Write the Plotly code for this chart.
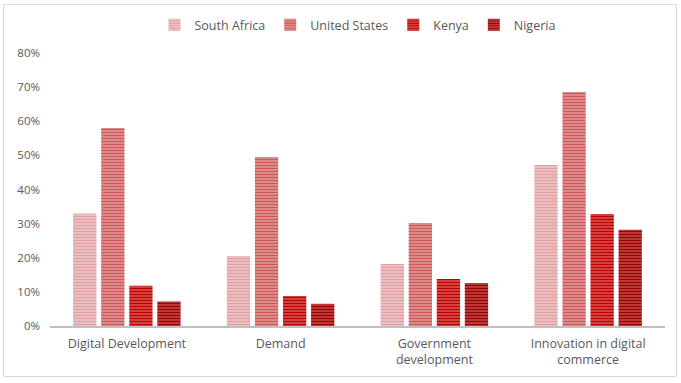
import plotly.graph_objects as go

categories = ["Digital Development", "Demand", "Government<br>development", "Innovation in digital<br>commerce"]
series = ["South Africa", "United States", "Kenya", "Nigeria"]
south_africa = [0.33, 0.205, 0.182, 0.472]
united_states = [0.58, 0.495, 0.302, 0.686]
kenya = [0.118, 0.088, 0.138, 0.328]
nigeria = [0.072, 0.065, 0.126, 0.282]
values = [south_africa, united_states, kenya, nigeria]
y_ticks = [0, 0.1, 0.2, 0.3, 0.4, 0.5, 0.6, 0.7, 0.8]

fg_colors = ["#dea0a0", "#cc5a5a", "#bb0000", "#9a0000"]
bg_colors = ["#f6dcdc", "#efb8b8", "#ee8080", "#dc7070"]

fig = go.Figure()
for name, vals, fg, bg in zip(series, values, fg_colors, bg_colors):
    fig.add_trace(go.Bar(
        name=name, x=categories, y=vals,
        marker=dict(color=fg, line=dict(width=0),
                    pattern=dict(shape="-", fgcolor=fg, bgcolor=bg, size=3, solidity=0.67,
                                 fillmode="replace")),
    ))

L, R, T, B = 50, 16, 53, 57
W, H = 681, 383
pw, ph = W - L - R, H - T - B

def px_x(x):
    return (x - L) / pw

def px_y(y):
    return (H - B - y) / ph

fig.add_shape(type="rect", xref="paper", yref="paper",
              x0=px_x(3.5), x1=px_x(676.5), y0=px_y(376.5), y1=px_y(4.5),
              line=dict(color="#d9d9d9", width=1), fillcolor="rgba(0,0,0,0)", layer="below")

fig.update_layout(
    width=W, height=H,
    margin=dict(l=L, r=R, t=T, b=B, autoexpand=False),
    paper_bgcolor="white", plot_bgcolor="white",
    barmode="group", bargap=0.27, bargroupgap=0.17,
    font=dict(family="'Open Sans', 'DejaVu Sans', sans-serif", color="#595959", size=12.5),
    legend=dict(orientation="h", x=0.5, xanchor="center", y=px_y(25), yanchor="middle",
                font=dict(size=12.5, color="#595959"), itemwidth=30, traceorder="normal"),
    xaxis=dict(showline=True, linecolor="#bfbfbf", linewidth=2, ticks="", showgrid=False,
               ticklabelstandoff=5, tickfont=dict(size=12.5, color="#595959")),
    yaxis=dict(range=[0, 0.8], tickvals=y_ticks, tickformat=".0%", showgrid=False,
               showline=False, zeroline=False, ticks="", ticklabelstandoff=9,
               tickfont=dict(size=11.5, color="#595959")),
)

fig.write_html("out.html", config={"displayModeBar": False},
               post_script="document.body.style.margin='0';document.body.style.overflow='hidden';")
